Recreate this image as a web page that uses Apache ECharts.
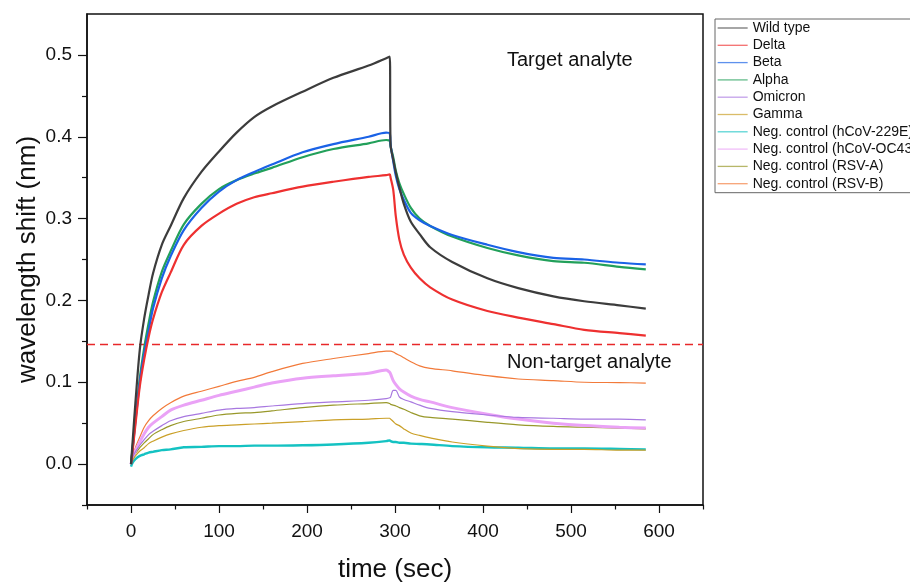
<!DOCTYPE html>
<html>
<head>
<meta charset="utf-8">
<title>wavelength shift</title>
<script src="https://cdn.jsdelivr.net/npm/echarts@6/dist/echarts.min.js"></script>
<style>
  html, body { margin: 0; padding: 0; background: #fff; }
  #chart { width: 910px; height: 582px; }
</style>
</head>
<body>
<div id="chart"></div>
<script>
// time points (sec)
var times = [0, 2, 5, 10, 15, 20, 25, 35, 45, 60, 80, 100, 120, 140, 160, 195, 230, 270, 290, 294,
  295, 298, 301, 305, 310, 318, 328, 340, 365, 405, 440, 480, 515, 555, 585];

var wildType = [0, 0.03, 0.075, 0.14, 0.178, 0.207, 0.233, 0.268, 0.291, 0.325, 0.357, 0.382, 0.405, 0.424, 0.437, 0.455, 0.472, 0.487, 0.496, 0.498,
  0.39, 0.372, 0.356, 0.338, 0.318, 0.296, 0.281, 0.265, 0.247, 0.227, 0.215, 0.205, 0.199, 0.194, 0.190];
var delta = [0, 0.018, 0.048, 0.095, 0.128, 0.155, 0.177, 0.21, 0.234, 0.268, 0.291, 0.306, 0.318, 0.326, 0.331, 0.339, 0.345, 0.351, 0.353, 0.354,
  0.35, 0.335, 0.302, 0.274, 0.256, 0.240, 0.227, 0.216, 0.201, 0.187, 0.179, 0.171, 0.164, 0.160, 0.157];
var beta = [0, 0.02, 0.052, 0.1, 0.135, 0.163, 0.19, 0.227, 0.254, 0.286, 0.313, 0.333, 0.347, 0.357, 0.366, 0.381, 0.391, 0.400, 0.405, 0.404,
  0.39, 0.37, 0.352, 0.336, 0.323, 0.307, 0.298, 0.291, 0.280, 0.268, 0.259, 0.252, 0.250, 0.246, 0.244];
var alpha = [0, 0.022, 0.055, 0.105, 0.142, 0.172, 0.198, 0.235, 0.26, 0.293, 0.318, 0.336, 0.347, 0.355, 0.362, 0.375, 0.385, 0.392, 0.396, 0.395,
  0.388, 0.375, 0.358, 0.343, 0.330, 0.313, 0.300, 0.291, 0.278, 0.264, 0.255, 0.248, 0.246, 0.241, 0.238];
var omicron = [0, 0.008, 0.015, 0.023, 0.03, 0.036, 0.04, 0.047, 0.053, 0.058, 0.062, 0.066, 0.068, 0.069, 0.071, 0.074, 0.076, 0.078, 0.080, 0.081,
  0.082, 0.090, 0.090, 0.082, 0.079, 0.076, 0.072, 0.068, 0.064, 0.060, 0.057, 0.056, 0.055, 0.055, 0.054];
var gamma = [0, 0.005, 0.01, 0.016, 0.02, 0.025, 0.028, 0.033, 0.037, 0.041, 0.045, 0.047, 0.048, 0.049, 0.050, 0.052, 0.054, 0.055, 0.056, 0.056,
  0.055, 0.052, 0.049, 0.047, 0.043, 0.038, 0.035, 0.032, 0.027, 0.022, 0.019, 0.018, 0.018, 0.017, 0.017];
var neg229E = [-0.003, 0.002, 0.006, 0.01, 0.012, 0.014, 0.015, 0.017, 0.018, 0.0205, 0.021, 0.022, 0.022, 0.0225, 0.0225, 0.023, 0.024, 0.026, 0.028, 0.029,
  0.028, 0.027, 0.027, 0.026, 0.026, 0.025, 0.0246, 0.024, 0.022, 0.0205, 0.02, 0.019, 0.019, 0.0185, 0.018];
var negOC43 = [0, 0.008, 0.016, 0.027, 0.037, 0.045, 0.05, 0.058, 0.066, 0.072, 0.078, 0.084, 0.089, 0.094, 0.099, 0.105, 0.108, 0.111, 0.115, 0.112,
  0.11, 0.102, 0.097, 0.092, 0.088, 0.083, 0.079, 0.076, 0.069, 0.061, 0.055, 0.050, 0.047, 0.045, 0.044];
var negRSVA = [0, 0.006, 0.013, 0.02, 0.026, 0.031, 0.036, 0.042, 0.047, 0.052, 0.056, 0.060, 0.062, 0.063, 0.065, 0.069, 0.072, 0.074, 0.075, 0.074,
  0.073, 0.072, 0.071, 0.069, 0.067, 0.063, 0.059, 0.057, 0.055, 0.051, 0.048, 0.046, 0.045, 0.044, 0.043];
var negRSVB = [0, 0.01, 0.02, 0.033, 0.045, 0.053, 0.059, 0.068, 0.075, 0.083, 0.089, 0.095, 0.101, 0.106, 0.113, 0.123, 0.129, 0.135, 0.138, 0.138,
  0.138, 0.137, 0.135, 0.133, 0.130, 0.125, 0.120, 0.117, 0.114, 0.108, 0.104, 0.102, 0.100, 0.0996, 0.099];

var seriesNames = ['Wild type', 'Delta', 'Beta', 'Alpha', 'Omicron', 'Gamma',
  'Neg. control (hCoV-229E)', 'Neg. control (hCoV-OC43)', 'Neg. control (RSV-A)', 'Neg. control (RSV-B)'];
var seriesValues = [wildType, delta, beta, alpha, omicron, gamma, neg229E, negOC43, negRSVA, negRSVB];
var seriesColors = ['#3c3c3c', '#ee3030', '#1a62e6', '#22a05a', '#a878e0', '#caa028',
  '#14c2c2', '#eaa2f6', '#98982a', '#f27a3a'];
var seriesWidths = [2.2, 2.2, 2.2, 2.2, 1.2, 1.2, 2.4, 3, 1.2, 1.2];

var xLabels = [0, 100, 200, 300, 400, 500, 600];
var xMinor = [-50, 50, 150, 250, 350, 450, 550, 650];
var yLabels = [0, 0.1, 0.2, 0.3, 0.4, 0.5];
var yMinor = [-0.05, 0.05, 0.15, 0.25, 0.35, 0.45];
var threshold = 0.146;
var thresholdSpan = [-50, 650];

var font = 'Liberation Sans, Arial, sans-serif';

var series = seriesNames.map(function (name, i) {
  return {
    name: name,
    type: 'line',
    symbol: 'none',
    showSymbol: false,
    smooth: 0.3,
    data: times.map(function (t, k) { return [t, seriesValues[i][k]]; }),
    lineStyle: { color: seriesColors[i], width: seriesWidths[i] },
    itemStyle: { color: seriesColors[i] },
    z: 10 - i
  };
});
// red dashed cut-off line
series.push({
  name: 'threshold',
  type: 'line',
  symbol: 'none',
  silent: true,
  data: thresholdSpan.map(function (t) { return [t, threshold]; }),
  lineStyle: { color: '#e8282a', type: [8, 5], width: 1.5 },
  z: 1
});

var chart = echarts.init(document.getElementById('chart'));
chart.setOption({
  animation: false,
  backgroundColor: '#fff',
  textStyle: { fontFamily: font },
  grid: {
    left: 87, right: 207, top: 14, bottom: 77,
    containLabel: false, outerBoundsMode: 'none',
    show: true, borderColor: '#111', borderWidth: 1.5, backgroundColor: 'transparent'
  },
  legend: {
    orient: 'vertical',
    left: 715, top: 19,
    padding: [2, 150, 2, 2],
    itemWidth: 30, itemHeight: 12, itemGap: 3.3,
    borderColor: '#666', borderWidth: 1,
    itemStyle: { opacity: 0 },
    lineStyle: { width: 1.3, opacity: 0.7 },
    textStyle: { fontFamily: font, fontSize: 14, lineHeight: 14, color: '#111' },
    data: seriesNames
  },
  xAxis: [{
    type: 'value', min: -50, max: 650,
    name: 'time (sec)', nameLocation: 'middle', nameGap: 52, nameMoveOverlap: false,
    nameTextStyle: { fontFamily: font, fontSize: 26, color: '#111' },
    axisLine: { onZero: false, lineStyle: { color: '#111', width: 1.5 } },
    axisTick: { show: true, length: 8, customValues: xLabels, lineStyle: { color: '#111', width: 1.2 } },
    axisLabel: { customValues: xLabels, margin: 17, fontFamily: font, fontSize: 19, color: '#111' },
    splitLine: { show: false }
  }, {
    type: 'value', min: -50, max: 650, position: 'bottom',
    axisLine: { show: false, onZero: false },
    axisTick: { show: true, length: 4.5, customValues: xMinor, lineStyle: { color: '#111', width: 1.2 } },
    axisLabel: { show: false },
    splitLine: { show: false }
  }],
  yAxis: [{
    type: 'value', min: -0.05, max: 0.55,
    name: 'wavelength shift (nm)', nameLocation: 'middle', nameGap: 46, nameMoveOverlap: false,
    nameTextStyle: { fontFamily: font, fontSize: 26, color: '#111' },
    axisLine: { onZero: false, lineStyle: { color: '#111', width: 1.5 } },
    axisTick: { show: true, length: 9, customValues: yLabels, lineStyle: { color: '#111', width: 1.2 } },
    axisLabel: {
      customValues: yLabels, margin: 15, fontFamily: font, fontSize: 19, color: '#111',
      formatter: function (v) { return v.toFixed(1); }
    },
    splitLine: { show: false }
  }, {
    type: 'value', min: -0.05, max: 0.55, position: 'left',
    axisLine: { show: false, onZero: false },
    axisTick: { show: true, length: 5, customValues: yMinor, lineStyle: { color: '#111', width: 1.2 } },
    axisLabel: { show: false },
    splitLine: { show: false }
  }],
  graphic: [{
    type: 'text', left: 507, top: 50,
    style: { text: 'Target analyte', font: '20px ' + font, fill: '#111' }
  }, {
    type: 'text', left: 507, top: 352,
    style: { text: 'Non-target analyte', font: '20px ' + font, fill: '#111' }
  }],
  series: series
});
</script>
</body>
</html>
